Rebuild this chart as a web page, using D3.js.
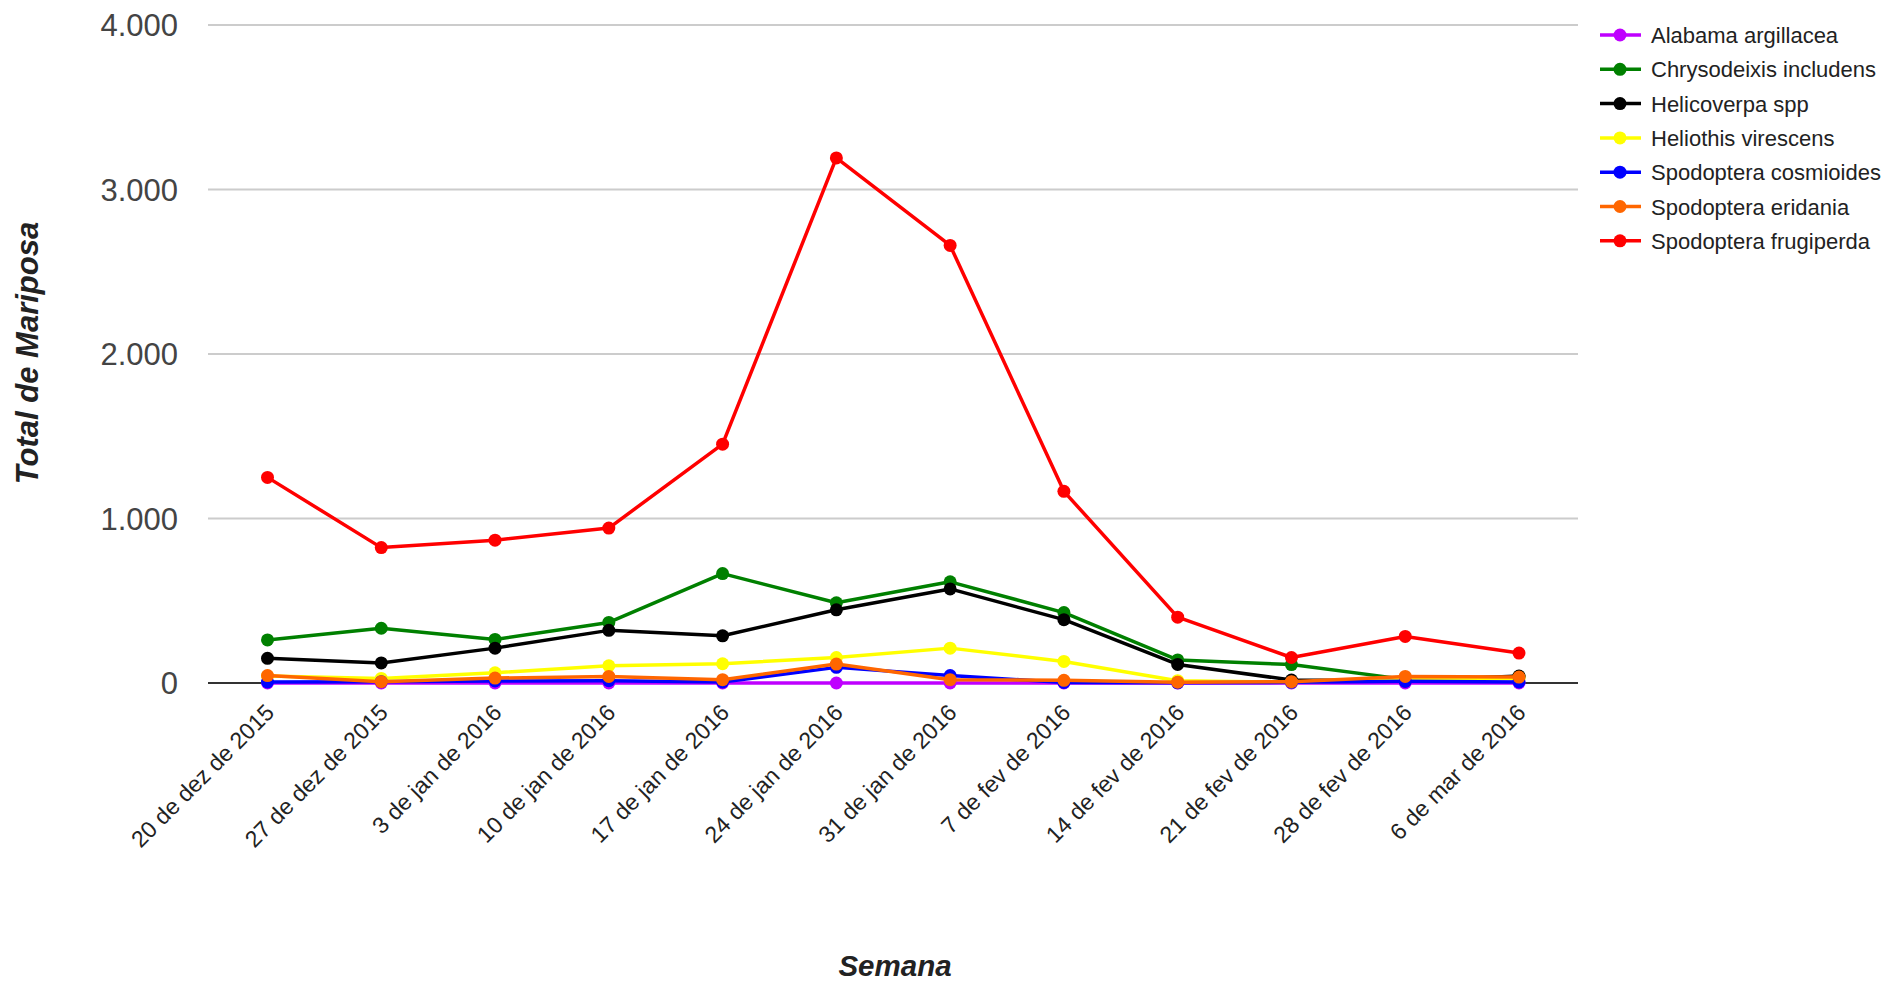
<!DOCTYPE html>
<html><head><meta charset="utf-8">
<script src="https://cdnjs.cloudflare.com/ajax/libs/d3/7.8.5/d3.min.js"></script>
<style>body{margin:0;background:#fff;}svg{display:block;font-family:Arial,"Liberation Sans",sans-serif;}</style>
</head><body><svg id="c" width="1889" height="982"></svg>
<script>
const weeks = ["20 de dez de 2015","27 de dez de 2015","3 de jan de 2016","10 de jan de 2016","17 de jan de 2016","24 de jan de 2016","31 de jan de 2016","7 de fev de 2016","14 de fev de 2016","21 de fev de 2016","28 de fev de 2016","6 de mar de 2016"];
const seriesNames = ["Alabama argillacea","Chrysodeixis includens","Helicoverpa spp","Heliothis virescens","Spodoptera cosmioides","Spodoptera eridania","Spodoptera frugiperda"];
const alabama = [0,0,0,0,0,0,0,0,0,0,0,0];
const chrysodeixis = [262,333,265,368,665,488,615,428,140,112,22,40];
const helicoverpa = [150,122,212,320,287,445,572,385,113,18,12,42];
const heliothis = [42,28,62,105,117,155,212,131,14,5,22,28];
const cosmioides = [6,8,12,14,6,95,45,3,1,4,10,6];
const eridania = [45,8,30,40,20,115,20,16,5,8,40,36];
const frugiperda = [1250,823,868,942,1452,3192,2660,1165,400,155,283,182];
const yTicks = [0,1000,2000,3000,4000];
const colors = ["#bf00ff","#008000","#000000","#ffff00","#0000ff","#ff6600","#ff0000"];
const allSeries = [alabama,chrysodeixis,helicoverpa,heliothis,cosmioides,eridania,frugiperda];

const svg = d3.select("#c");
const L=208, R=1578, T=25, B=683;
const x = d3.scalePoint().domain(weeks).range([267.5,1519]).padding(0);
const y = d3.scaleLinear().domain([0,4000]).range([B,T]);
const fmt = v => d3.format(",")(v).replace(/,/g,".");

// gridlines
svg.append("g").selectAll("line").data(yTicks.filter(d=>d>0)).join("line")
  .attr("x1",L).attr("x2",R).attr("y1",d=>y(d)).attr("y2",d=>y(d))
  .attr("stroke","#cccccc").attr("stroke-width",2);
// y labels
svg.append("g").selectAll("text").data(yTicks).join("text")
  .attr("x",178).attr("y",d=>y(d)+11).attr("text-anchor","end")
  .attr("font-size",31).attr("fill","#444").text(fmt);
// baseline
svg.append("line").attr("x1",L).attr("x2",R).attr("y1",y(0)).attr("y2",y(0))
  .attr("stroke","#333").attr("stroke-width",2);
// x labels
svg.append("g").selectAll("text").data(weeks).join("text")
  .attr("text-anchor","end").attr("font-size",23).attr("fill","#222")
  .attr("transform",d=>`translate(${x(d)+8},${B+31}) rotate(-45)`).text(d=>d);
// axis titles
svg.append("text").attr("x",895).attr("y",976).attr("text-anchor","middle")
  .attr("font-size",29.5).attr("font-weight","bold").attr("font-style","italic").attr("fill","#222").text("Semana");
svg.append("text").attr("transform","translate(38,353) rotate(-90)").attr("text-anchor","middle")
  .attr("font-size",31).attr("font-weight","bold").attr("font-style","italic").attr("fill","#222").text("Total de Mariposa");

const line = d3.line().x((d,i)=>x(weeks[i])).y(d=>y(d));
allSeries.forEach((s,k)=>{
  const g = svg.append("g");
  g.append("path").attr("d",line(s)).attr("fill","none").attr("stroke",colors[k]).attr("stroke-width",3.5).attr("stroke-linejoin","round");
  g.selectAll("circle").data(s).join("circle").attr("cx",(d,i)=>x(weeks[i])).attr("cy",d=>y(d)).attr("r",6.5).attr("fill",colors[k]);
});

// legend
const lg = svg.append("g");
seriesNames.forEach((n,k)=>{
  const yy = 35 + k*34.3;
  lg.append("line").attr("x1",1600).attr("x2",1641).attr("y1",yy).attr("y2",yy).attr("stroke",colors[k]).attr("stroke-width",3.5);
  lg.append("circle").attr("cx",1620).attr("cy",yy).attr("r",6.5).attr("fill",colors[k]);
  lg.append("text").attr("x",1651).attr("y",yy+8).attr("font-size",22).attr("fill","#222").text(n);
});
</script></body></html>
